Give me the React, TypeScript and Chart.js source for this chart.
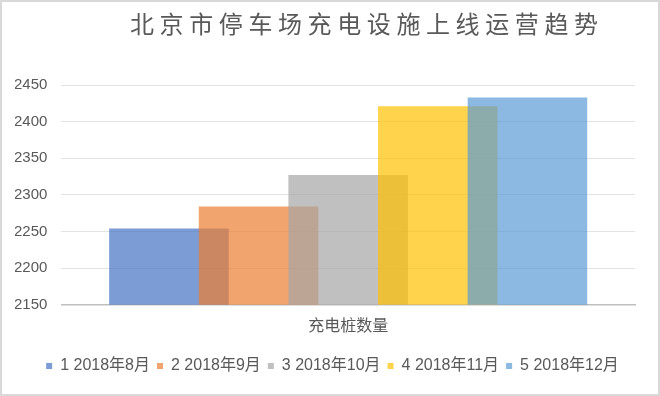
import React, { useEffect, useRef } from 'react';
import { Chart, registerables } from 'chart.js';

Chart.register(...registerables);

const chartTitle = '北京市停车场充电设施上线运营趋势';
const categories = ['充电桩数量'];
const seriesLabels = ['1 2018年8月', '2 2018年9月', '3 2018年10月', '4 2018年11月', '5 2018年12月'];
const seriesValues = [2254, 2284, 2327, 2421, 2433];
const seriesPositions = [1, 2, 3, 4, 5];
const seriesColors = [
  'rgba(68,114,196,0.7)',
  'rgba(237,125,49,0.7)',
  'rgba(165,165,165,0.7)',
  'rgba(255,192,0,0.7)',
  'rgba(91,155,213,0.7)',
];
const yMin = 2150;
const yMax = 2450;
const yStep = 50;

const FAMILY = '"Liberation Sans", "Noto Sans CJK SC", sans-serif';
const TEXT = '#595959';

export default function App() {
  const ref = useRef<HTMLCanvasElement>(null);

  useEffect(() => {
    const canvas = ref.current!;
    Chart.defaults.font.family = FAMILY;
    Chart.defaults.color = TEXT;

    const framePlugin = {
      id: 'frame',
      beforeDraw(chart: any) {
        const c = chart.ctx;
        c.save();
        c.fillStyle = '#ffffff';
        c.fillRect(0, 0, chart.width, chart.height);
        c.strokeStyle = '#d9d9d9';
        c.lineWidth = 2;
        c.strokeRect(1, 1, chart.width - 2, chart.height - 2);
        c.restore();
      },
    };

    const legendShift = {
      id: 'legendShift',
      afterLayout(chart: any) {
        const lg = chart.legend;
        if (lg) {
          lg.left += 15;
        }
      },
    };

    const titlePlugin = {
      id: 'customTitle',
      afterDraw(chart: any) {
        const c = chart.ctx;
        c.save();
        c.font = '24px "Noto Sans CJK SC"';
        (c as any).letterSpacing = '5.6px';
        c.fillStyle = TEXT;
        c.textAlign = 'center';
        c.textBaseline = 'middle';
        c.fillText(chartTitle, 364 + 2.8, 23.5);
        c.restore();
      },
    };

    const center = (seriesPositions[0] + seriesPositions[seriesPositions.length - 1]) / 2;

    const chart = new Chart(canvas, {
      type: 'bar',
      data: {
        datasets: seriesLabels.map((label, i) => ({
          label,
          data: [{ x: seriesPositions[i], y: seriesValues[i] }],
          backgroundColor: seriesColors[i],
          borderWidth: 0,
          order: seriesLabels.length - i,
          grouped: false,
          categoryPercentage: 1,
          barPercentage: 1.334,
        })),
      },
      options: {
        responsive: false,
        animation: false,
        layout: { padding: { left: 15, right: 25, top: 85, bottom: 12 } },
        scales: {
          x: {
            type: 'linear',
            offset: false,
            min: center - 3.2,
            max: center + 3.2,
            grid: { display: false, drawTicks: false },
            border: { display: true, color: '#bfbfbf', width: 1.5 },
            afterBuildTicks: (s: any) => {
              s.ticks = [{ value: center }];
            },
            ticks: { display: false },
            title: {
              display: true,
              text: categories[0],
              color: TEXT,
              font: { size: 16, family: FAMILY },
              padding: { top: 12, bottom: 15 },
            },
          },
          y: {
            min: yMin,
            max: yMax,
            afterFit: (s: any) => {
              s.width -= 15;
            },
            ticks: {
              stepSize: yStep,
              padding: 14,
              color: TEXT,
              font: { size: 15, family: FAMILY },
              callback: (v: any) => String(v),
            },
            grid: { color: '#e3e3e3', drawTicks: false },
            border: { display: false },
          },
        },
        plugins: {
          legend: {
            position: 'bottom',
            reverse: true,
            labels: {
              boxWidth: 6,
              boxHeight: 6,
              padding: 7,
              color: TEXT,
              font: { size: 16, family: FAMILY },
            },
          },
          title: { display: false },
          tooltip: { enabled: false },
        },
      } as any,
      plugins: [framePlugin, legendShift, titlePlugin],
    });

    return () => chart.destroy();
  }, []);

  return (
    <div style={{ position: 'absolute', left: 0, top: 0, width: 660, height: 396 }}>
      <canvas ref={ref} width={660} height={396} style={{ display: 'block' }} />
    </div>
  );
}
